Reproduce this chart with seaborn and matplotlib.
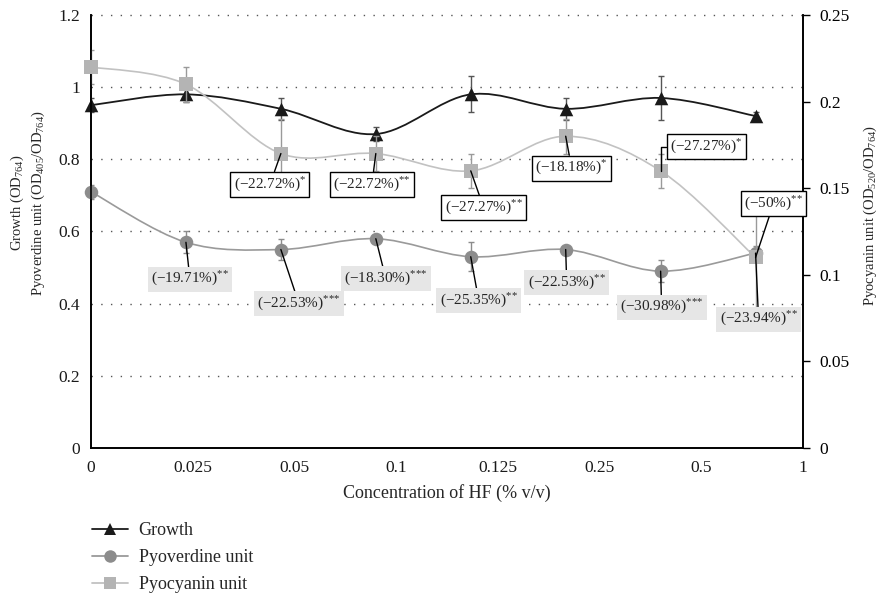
import numpy as np
import pandas as pd
import matplotlib
matplotlib.use("Agg")
import matplotlib.pyplot as plt
from matplotlib.path import Path
from matplotlib.patches import PathPatch
from matplotlib.lines import Line2D
import seaborn as sns

# ---------------- data ----------------
tick_labels = ["0", "0.025", "0.05", "0.1", "0.125", "0.25", "0.5", "1"]
growth = [0.95, 0.98, 0.94, 0.87, 0.98, 0.94, 0.97, 0.92]
growth_err = [0.02, 0.02, 0.03, 0.02, 0.05, 0.03, 0.06, 0.01]
pyoverdine = [0.71, 0.57, 0.55, 0.58, 0.53, 0.55, 0.49, 0.54]
pyoverdine_err = [0.02, 0.03, 0.03, 0.01, 0.04, 0.01, 0.03, 0.02]
pyocyanin = [0.22, 0.21, 0.17, 0.17, 0.16, 0.18, 0.16, 0.11]
pyocyanin_err = [0.01, 0.01, 0.02, 0.01, 0.01, 0.01, 0.01, 0.03]
pyocyanin_notes = [None, None, "(−22.72%)$^{{*}}$", "(−22.72%)$^{{*}{*}}$", "(−27.27%)$^{{*}{*}}$",
                   "(−18.18%)$^{{*}}$", "(−27.27%)$^{{*}}$", "(−50%)$^{{*}{*}}$"]
pyoverdine_notes = [None, "(−19.71%)$^{{*}{*}}$", "(−22.53%)$^{{*}{*}{*}}$", "(−18.30%)$^{{*}{*}{*}}$",
                    "(−25.35%)$^{{*}{*}}$", "(−22.53%)$^{{*}{*}}$", "(−30.98%)$^{{*}{*}{*}}$",
                    "(−23.94%)$^{{*}{*}}$"]

# label offsets (pixels) – layout only
pyo_off = [None, None, (-11, -31), (-4, -31), (13, -37), (6, -32), (46, 24), (18, 54)]
pyo_conn = [None, None, "arc3", "arc3", "arc3", "arc3", "angle,angleA=180,angleB=90,rad=0", "arc3"]
pvd_off = [None, (4, -37), (18, -54), (10, -40), (8, -44), (1, -33), (1, -36), (3, -66)]

# ---------------- style ----------------
sns.set_theme(style="white")
plt.rcParams["font.family"] = ["Liberation Serif", "DejaVu Serif"]
plt.rcParams["mathtext.fontset"] = "custom"
plt.rcParams["mathtext.rm"] = "Liberation Serif"
plt.rcParams["mathtext.it"] = "Liberation Serif:italic"
plt.rcParams["mathtext.bf"] = "Liberation Serif:bold"

C_GROWTH = "#1a1a1a"
C_PVD = "#8c8c8c"
C_PVD_LINE = "#9a9a9a"
C_PYO = "#b4b4b4"
C_PYO_LINE = "#c2c2c2"

fig = plt.figure(figsize=(8.81, 5.97), dpi=100)
ax = fig.add_axes([0.1033, 0.2496, 0.8082, 0.7253])
ax2 = ax.twinx()

x = np.arange(len(growth), dtype=float)
df = pd.DataFrame({"x": x, "growth": growth, "pyoverdine": pyoverdine, "pyocyanin": pyocyanin})


def smooth_patch(xs, ys, color, lw, axis, z):
    pts = np.column_stack([xs, ys])
    n = len(pts)
    verts = [pts[0]]
    codes = [Path.MOVETO]
    for i in range(n - 1):
        p0 = pts[i - 1] if i > 0 else pts[i]
        p1 = pts[i]
        p2 = pts[i + 1]
        p3 = pts[i + 2] if i + 2 < n else pts[i + 1]
        c1 = p1 + (p2 - p0) / 6.0
        c2 = p2 - (p3 - p1) / 6.0
        verts += [c1, c2, p2]
        codes += [Path.CURVE4] * 3
    patch = PathPatch(Path(verts, codes), facecolor="none", edgecolor=color, lw=lw, zorder=z)
    axis.add_patch(patch)


# grid lines (dotted)
for yv in [0.2, 0.4, 0.6, 0.8, 1.0, 1.2]:
    ax.axhline(yv, color="#555555", lw=1.0, ls=(0, (1, 6)), zorder=0, clip_on=False)

# pyoverdine and growth on left axis
smooth_patch(x, pyoverdine, C_PVD_LINE, 1.2, ax, 2)
ax.errorbar(x, pyoverdine, yerr=pyoverdine_err, fmt="none", ecolor=C_PVD, elinewidth=1, capsize=2, zorder=2)
sns.scatterplot(data=df, x="x", y="pyoverdine", ax=ax, marker="o", s=95, color=C_PVD,
                edgecolor=C_PVD, linewidth=0, zorder=3, clip_on=False)

smooth_patch(x, growth, C_GROWTH, 1.3, ax, 4)
ax.errorbar(x, growth, yerr=growth_err, fmt="none", ecolor="#555555", elinewidth=1, capsize=2, zorder=4)
sns.scatterplot(data=df, x="x", y="growth", ax=ax, marker="^", s=95, color=C_GROWTH,
                edgecolor=C_GROWTH, linewidth=0, zorder=5, clip_on=False)

# pyocyanin on right axis
smooth_patch(x, pyocyanin, C_PYO_LINE, 1.2, ax2, 2)
ax2.errorbar(x, pyocyanin, yerr=pyocyanin_err, fmt="none", ecolor="#9a9a9a", elinewidth=1, capsize=2, zorder=2)
sns.scatterplot(data=df, x="x", y="pyocyanin", ax=ax2, marker="s", s=95, color=C_PYO,
                edgecolor=C_PYO, linewidth=0, zorder=3, clip_on=False)

# axes limits / ticks
ax.set_xlim(0, 7.5)
ax.set_ylim(0, 1.2)
ax2.set_ylim(0, 0.25)
ax.set_xticks(np.linspace(0, 7.5, len(tick_labels)))
ax.set_xticklabels(tick_labels)
ax.set_yticks([0, 0.2, 0.4, 0.6, 0.8, 1.0, 1.2])
ax.set_yticklabels(["0", "0.2", "0.4", "0.6", "0.8", "1", "1.2"])
ax2.set_yticks([0, 0.05, 0.1, 0.15, 0.2, 0.25])
ax2.set_yticklabels(["0", "0.05", "0.1", "0.15", "0.2", "0.25"])

for a in (ax, ax2):
    a.spines["top"].set_visible(False)
    for s in ("left", "bottom", "right"):
        a.spines[s].set_color("black")
        a.spines[s].set_linewidth(1.2)
ax.tick_params(axis="both", length=0, labelsize=12.5, colors="#1a1a1a")
ax.tick_params(axis="x", pad=9)
ax.tick_params(axis="y", pad=8)
ax2.tick_params(axis="y", length=5, width=1, direction="out", labelsize=12.5, colors="black", pad=7)
ax2.grid(False)
ax.grid(False)
ax.set_xlabel("Concentration of HF (% v/v)", fontsize=13)
ax.xaxis.set_label_coords(0.5, -0.083)
ax.set_ylabel("Growth (OD$_{764}$)\nPyoverdine unit (OD$_{405}$/OD$_{764}$)", fontsize=10.5,
              linespacing=1.25)
ax.yaxis.set_label_coords(-0.062, 0.566)
ax2.set_ylabel("Pyocyanin unit (OD$_{520}$/OD$_{764}$)", fontsize=10.5)
ax2.yaxis.set_label_coords(1.083, 0.536)

# annotations
for i in range(len(x)):
    if pyocyanin_notes[i]:
        ax2.annotate(pyocyanin_notes[i], xy=(x[i], pyocyanin[i]), xytext=pyo_off[i],
                     textcoords="offset pixels", ha="center", va="center", fontsize=11,
                     bbox=dict(boxstyle="square,pad=0.22", fc="white", ec="black", lw=1),
                     arrowprops=dict(arrowstyle="-", color="black", lw=1, shrinkA=0, shrinkB=0,
                                     connectionstyle=pyo_conn[i]),
                     zorder=6)
    if pyoverdine_notes[i]:
        ax2.annotate(pyoverdine_notes[i], xy=(x[i], pyoverdine[i] * 0.25 / 1.2), xytext=pvd_off[i],
                     textcoords="offset pixels", ha="center", va="center", fontsize=11,
                     bbox=dict(boxstyle="square,pad=0.22", fc="#e6e6e6", ec="none"),
                     arrowprops=dict(arrowstyle="-", color="black", lw=1, shrinkA=0, shrinkB=0),
                     zorder=6)

# legend
handles = [
    Line2D([], [], color=C_GROWTH, lw=1.3, marker="^", markersize=9, markeredgewidth=0),
    Line2D([], [], color=C_PVD_LINE, lw=1.3, marker="o", markersize=9, markerfacecolor=C_PVD, markeredgewidth=0),
    Line2D([], [], color=C_PYO_LINE, lw=1.3, marker="s", markersize=9, markerfacecolor=C_PYO, markeredgewidth=0),
]
fig.legend(handles, ["Growth", "Pyoverdine unit", "Pyocyanin unit"], loc="upper left",
           bbox_to_anchor=(0.096, 0.137), frameon=False, fontsize=13, handlelength=2.0,
           handletextpad=0.6, labelspacing=0.55, borderaxespad=0)

fig.savefig("out.png", dpi=100)
